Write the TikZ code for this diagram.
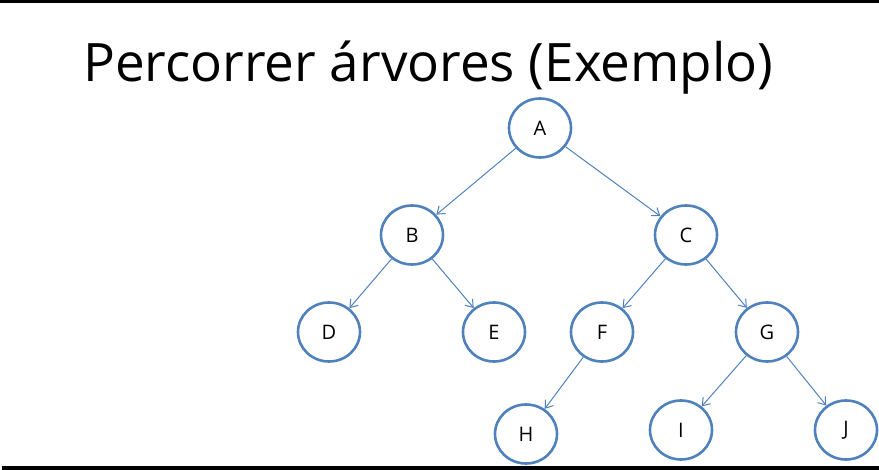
\documentclass[tikz,border=0pt]{standalone}
\usepackage{fontspec}
\setmainfont{Open Sans}
\usetikzlibrary{arrows.meta}
\definecolor{nodeblue}{RGB}{79,129,189}
\tikzset{
    vertex/.style={draw=nodeblue, line width=2.6pt, ellipse, inner sep=0pt,
        minimum width=62pt, minimum height=59pt, font=\fontsize{20}{22}\selectfont},
    edge/.style={draw=nodeblue, line width=1pt, -{Straight Barb[length=7pt,width=10pt]}}
}
\usetikzlibrary{shapes.geometric}
\begin{document}
\begin{tikzpicture}[x=1pt, y=-1pt]
    \useasboundingbox (0,0) rectangle (879,470);
    \fill[black] (0,0) rectangle (879,3);
    \fill[black] (2,466) rectangle (879,470);
    \node[anchor=base west, inner sep=0pt, font=\fontsize{53}{58}\selectfont] (title) at (83,82) {Percorrer árvores (Exemplo)};
    % tree nodes
    \node[vertex] (A) at (540,128) {A};
    \node[vertex] (B) at (412,235) {B};
    \node[vertex] (C) at (686,235) {C};
    \node[vertex] (D) at (329,332) {D};
    \node[vertex] (E) at (494,332) {E};
    \node[vertex] (F) at (602,332) {F};
    \node[vertex] (G) at (767,332) {G};
    \node[vertex] (H) at (526,434) {H};
    \node[vertex] (I) at (681,430) {I};
    \node[vertex] (J) at (846,430) {J};
    \foreach \from/\to in {A/B, A/C, B/D, B/E, C/F, C/G, F/H, G/I, G/J} {
        \draw[edge] (\from) -- (\to);
    }
\end{tikzpicture}
\end{document}
